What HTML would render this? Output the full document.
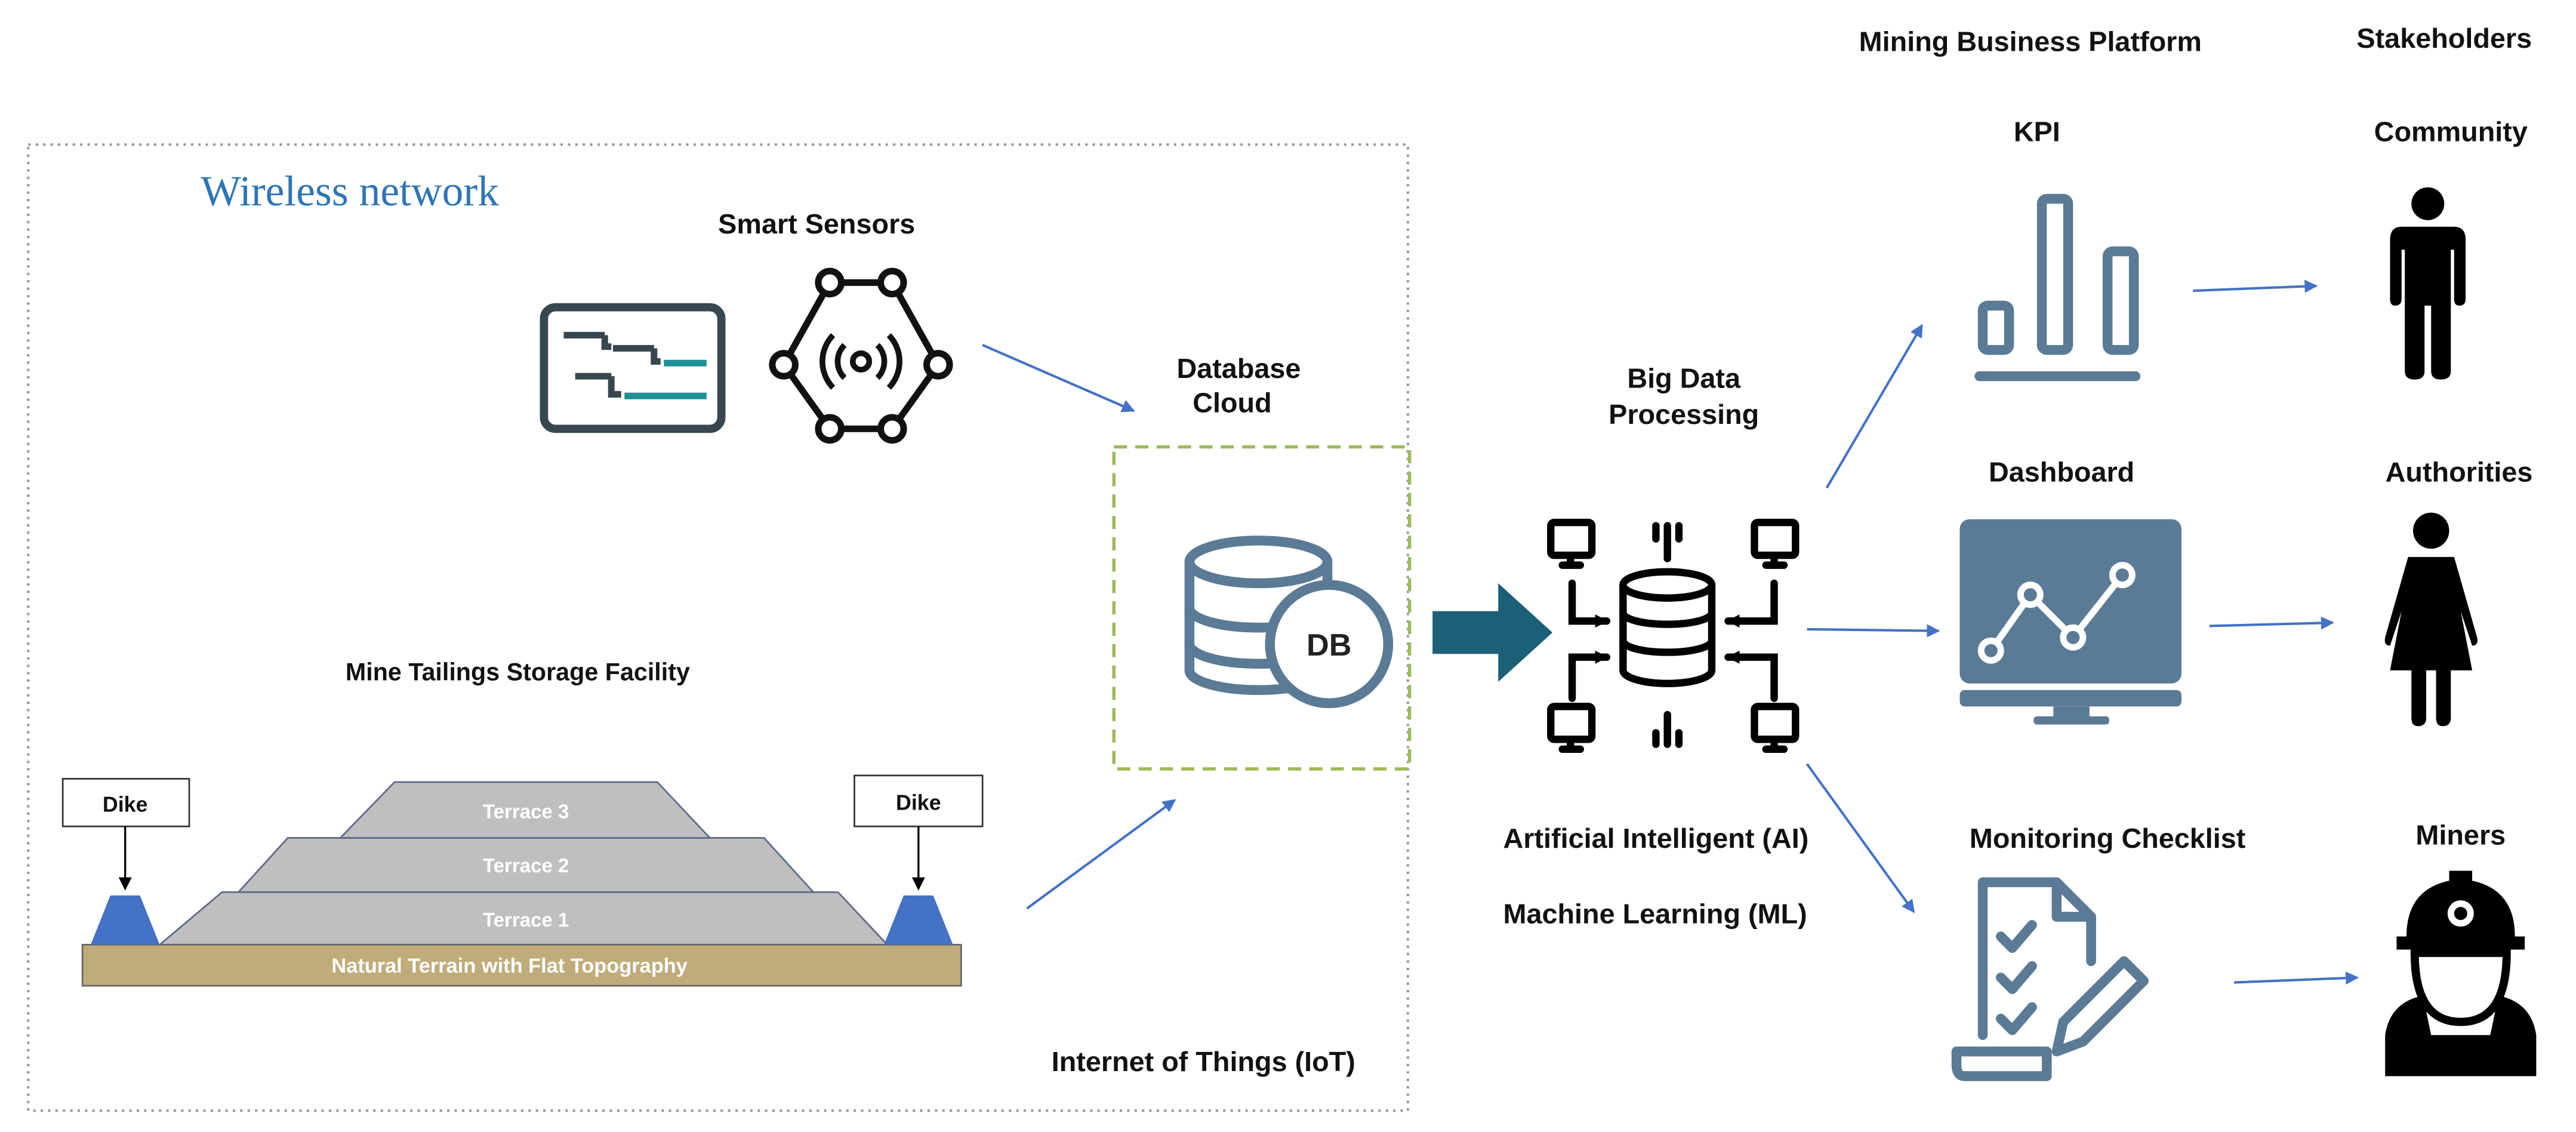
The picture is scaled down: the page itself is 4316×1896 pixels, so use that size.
<!DOCTYPE html>
<html><head><meta charset="utf-8"><style>
html,body{margin:0;padding:0;background:#fff;}
svg{display:block;}
text{font-family:"Liberation Sans",sans-serif;font-weight:bold;fill:#111;}
</style></head><body>
<svg width="4316" height="1896" viewBox="0 0 1568 689" xmlns="http://www.w3.org/2000/svg">
<defs>
<marker id="ab" markerWidth="8" markerHeight="8" refX="7" refY="4" orient="auto" markerUnits="userSpaceOnUse"><path d="M0,0 L8,4 L0,8 z" fill="#4472c4"/></marker>
<marker id="ak" markerWidth="8" markerHeight="8" refX="7" refY="4" orient="auto" markerUnits="userSpaceOnUse"><path d="M0,0 L8,4 L0,8 z" fill="#000"/></marker>
</defs>
<rect width="1568" height="689" fill="#fff"/>
<!-- IoT dotted box -->
<rect x="17" y="88" width="840" height="588" fill="none" stroke="#999" stroke-width="1.5" stroke-dasharray="1.5,3"/>
<text x="122" y="125" style="font-family:'Liberation Serif',serif;font-weight:normal;fill:#2e75b6" font-size="26">Wireless network</text>
<text x="497" y="142" font-size="17" text-anchor="middle">Smart Sensors</text>
<!-- gantt icon -->
<rect x="331" y="187" width="108" height="74" rx="7" fill="none" stroke="#37474f" stroke-width="5"/>
<g stroke-width="4" fill="none">
<path d="M343,204 H368" stroke="#37474f"/><path d="M368,204 V211 H372" stroke="#37474f"/>
<path d="M373,212 H398" stroke="#37474f"/><path d="M398,212 V220 H402" stroke="#37474f"/>
<path d="M404,221 H430" stroke="#1f8f96"/>
<path d="M350,229 H372" stroke="#37474f"/><path d="M372,229 V240 H378" stroke="#37474f"/>
<path d="M380,241 H430" stroke="#1f8f96"/>
</g>
<!-- hexagon sensor -->
<g stroke="#111" stroke-width="4" fill="none">
<path d="M505,172 H543 L571,222 L543,261 H505 L477,222 Z"/>
</g>
<g fill="#fff" stroke="#111" stroke-width="4">
<circle cx="505" cy="172" r="7"/><circle cx="543" cy="172" r="7"/><circle cx="571" cy="222" r="7"/><circle cx="543" cy="261" r="7"/><circle cx="505" cy="261" r="7"/><circle cx="477" cy="222" r="7"/>
</g>
<g stroke="#111" stroke-width="3.5" fill="none">
<circle cx="524" cy="220" r="5"/>
<path d="M514,210 A14,14 0 0 0 514,230"/><path d="M534,210 A14,14 0 0 1 534,230"/>
<path d="M507,204 A23,23 0 0 0 507,236"/><path d="M541,204 A23,23 0 0 1 541,236"/>
</g>
<line x1="598" y1="210" x2="690" y2="250" stroke="#4472c4" stroke-width="1.5" marker-end="url(#ab)"/>
<text x="754" y="230" font-size="17" text-anchor="middle">Database</text>
<text x="750" y="251" font-size="17" text-anchor="middle">Cloud</text>
<rect x="678" y="272" width="180" height="196" fill="none" stroke="#9bbb59" stroke-width="2" stroke-dasharray="8,5"/>
<!-- DB icon -->
<g stroke="#5b7a96" stroke-width="6" fill="#fff">
<path d="M724,342 V408 A42,12 0 0 0 808,408 V342"/>
<ellipse cx="766" cy="342" rx="42" ry="13"/>
<path d="M724,370 A42,12 0 0 0 808,370" fill="none"/>
<path d="M724,392 A42,12 0 0 0 808,392" fill="none"/>
<circle cx="809" cy="392" r="36"/>
</g>
<text x="809" y="399" font-size="19" text-anchor="middle" style="fill:#222">DB</text>
<!-- teal arrow -->
<path d="M872,372 H912 V355 L945,385 L912,415 V398 H872 Z" fill="#1c5f78"/>
<!-- Big data icon -->
<g stroke="#000" stroke-width="4.5" fill="none" stroke-linecap="round">
<rect x="944" y="318" width="25" height="20" rx="2"/><path d="M951,344 H962"/><path d="M956,338 V344"/>
<rect x="1068" y="318" width="25" height="20" rx="2"/><path d="M1075,344 H1086"/><path d="M1080,338 V344"/>
<rect x="944" y="430" width="25" height="20" rx="2"/><path d="M951,456 H962"/><path d="M956,450 V456"/>
<rect x="1068" y="430" width="25" height="20" rx="2"/><path d="M1075,456 H1086"/><path d="M1080,450 V456"/>
<path d="M1008,320 V328 M1015,320 V340 M1022,320 V328"/>
<path d="M1008,446 V453 M1015,435 V453 M1022,446 V453"/>
<path d="M988,356 V408 A27,8 0 0 0 1042,408 V356"/>
<ellipse cx="1015" cy="356" rx="27" ry="8"/>
<path d="M988,373 A27,7 0 0 0 1042,373 M988,390 A27,7 0 0 0 1042,390"/>
<path d="M957,355 V378 H978" marker-end="url(#ak)"/>
<path d="M957,425 V400 H978" marker-end="url(#ak)"/>
<path d="M1080,355 V378 H1052" marker-end="url(#ak)"/>
<path d="M1080,425 V400 H1052" marker-end="url(#ak)"/>
</g>
<text x="1025" y="236" font-size="17" text-anchor="middle">Big Data</text>
<text x="1025" y="258" font-size="17" text-anchor="middle">Processing</text>
<line x1="1112" y1="297" x2="1170" y2="198" stroke="#4472c4" stroke-width="1.5" marker-end="url(#ab)"/>
<line x1="1100" y1="383" x2="1180" y2="384" stroke="#4472c4" stroke-width="1.5" marker-end="url(#ab)"/>
<line x1="1100" y1="465" x2="1165" y2="555" stroke="#4472c4" stroke-width="1.5" marker-end="url(#ab)"/>
<text x="915" y="516" font-size="17">Artificial Intelligent (AI)</text>
<text x="915" y="562" font-size="17">Machine Learning (ML)</text>
<text x="640" y="652" font-size="17">Internet of Things (IoT)</text>
<!-- headers -->
<text x="1236" y="31" font-size="17" text-anchor="middle">Mining Business Platform</text>
<text x="1488" y="29" font-size="17" text-anchor="middle">Stakeholders</text>
<!-- KPI -->
<text x="1240" y="86" font-size="17" text-anchor="middle">KPI</text>
<g stroke="#5b7a96" stroke-width="6" fill="none">
<rect x="1207" y="186" width="16" height="27" rx="3"/>
<rect x="1243" y="121" width="16" height="92" rx="3"/>
<rect x="1283" y="153" width="16" height="60" rx="3"/>
<path d="M1205,229 H1300" stroke-linecap="round"/>
</g>
<line x1="1335" y1="177" x2="1410" y2="174" stroke="#4472c4" stroke-width="1.5" marker-end="url(#ab)"/>
<text x="1492" y="86" font-size="17" text-anchor="middle">Community</text>
<!-- man -->
<g fill="#000">
<circle cx="1478" cy="124" r="10"/>
<path d="M1462,138 H1494 Q1501,138 1501,146 V182 Q1501,186 1497,186 Q1494,186 1494,182 V152 H1492 V226 Q1492,231 1486,231 Q1480,231 1480,226 V186 H1476 V226 Q1476,231 1470,231 Q1464,231 1464,226 V152 H1462 V182 Q1462,186 1458,186 Q1455,186 1455,182 V146 Q1455,138 1462,138 Z"/>
</g>
<!-- Dashboard -->
<text x="1255" y="293" font-size="17" text-anchor="middle">Dashboard</text>
<rect x="1193" y="316" width="135" height="100" rx="6" fill="#5b7a96"/>
<rect x="1193" y="420" width="135" height="10" rx="3" fill="#5b7a96"/>
<rect x="1250" y="430" width="22" height="7" fill="#5b7a96"/>
<rect x="1238" y="436" width="46" height="5" rx="2" fill="#5b7a96"/>
<g stroke="#fff" stroke-width="4" fill="#5b7a96">
<path d="M1212,396 L1236,362 L1262,388 L1292,350" fill="none"/>
<circle cx="1212" cy="396" r="6"/><circle cx="1236" cy="362" r="6"/><circle cx="1262" cy="388" r="6"/><circle cx="1292" cy="350" r="6"/>
</g>
<line x1="1345" y1="381" x2="1420" y2="379" stroke="#4472c4" stroke-width="1.5" marker-end="url(#ab)"/>
<text x="1497" y="293" font-size="17" text-anchor="middle">Authorities</text>
<!-- woman -->
<g fill="#000">
<circle cx="1480" cy="323" r="11"/>
<path d="M1466,339 H1494 L1508,388 Q1509,393 1505,393 L1498,372 L1505,408 H1492 V437 Q1492,442 1487,442 Q1483,442 1483,437 V408 H1477 V437 Q1477,442 1472,442 Q1468,442 1468,437 V408 H1455 L1462,372 L1455,393 Q1451,393 1452,388 Z"/>
</g>
<!-- Monitoring Checklist -->
<text x="1283" y="516" font-size="17" text-anchor="middle">Monitoring Checklist</text>
<g stroke="#5b7a96" stroke-width="6" fill="none" stroke-linejoin="round" stroke-linecap="round">
<path d="M1207,630 V537 H1252 L1273,558 V585"/>
<path d="M1252,537 V558 H1273"/>
<path d="M1191,640 H1246 V655 H1196 Q1191,655 1191,648 Z"/>
<path d="M1218,570 L1225,577 L1237,563 M1218,595 L1225,602 L1237,588 M1218,620 L1225,627 L1237,613"/>
<path d="M1252,640 L1256,622 L1293,585 L1305,597 L1268,634 Z"/>
</g>
<line x1="1360" y1="598" x2="1435" y2="595" stroke="#4472c4" stroke-width="1.5" marker-end="url(#ab)"/>
<text x="1498" y="514" font-size="17" text-anchor="middle">Miners</text>
<!-- miner -->
<g fill="#000">
<path d="M1465,570 Q1465,538 1498,535 Q1531,538 1531,570 H1537 V578 H1459 V570 Z"/>
<rect x="1491" y="530" width="14" height="8"/>
<path d="M1470,580 H1526 Q1526,622 1498,622 Q1470,622 1470,580 Z" fill="none" stroke="#000" stroke-width="5"/>
<path d="M1452,655 V630 Q1455,610 1475,606 L1480,630 H1516 L1521,606 Q1541,610 1544,630 V655 Z"/>
</g>
<circle cx="1498" cy="556" r="8" fill="#fff"/><circle cx="1498" cy="556" r="4" fill="#000"/>
<!-- Mine tailings -->
<text x="315" y="414" font-size="15" text-anchor="middle">Mine Tailings Storage Facility</text>
<path d="M97,575 L135,543 H510 L540,575 Z" fill="#bfbfbf" stroke="#5a6b8a" stroke-width="1"/>
<path d="M145,543 L175,510 H465 L495,543 Z" fill="#bfbfbf" stroke="#5a6b8a" stroke-width="1"/>
<path d="M207,510 L240,476 H400 L432,510 Z" fill="#bfbfbf" stroke="#5a6b8a" stroke-width="1"/>
<g style="fill:#fff" font-size="12" text-anchor="middle">
<text x="320" y="498" style="fill:#fff">Terrace 3</text>
<text x="320" y="531" style="fill:#fff">Terrace 2</text>
<text x="320" y="564" style="fill:#fff">Terrace 1</text>
</g>
<rect x="50" y="575" width="535" height="25" fill="#bfac7a" stroke="#666" stroke-width="1"/>
<text x="310" y="592" font-size="12.5" text-anchor="middle" style="fill:#fff">Natural Terrain with Flat Topography</text>
<path d="M55,575 L67,545 H85 L97,575 Z" fill="#4472c4"/>
<path d="M538,575 L550,545 H568 L580,575 Z" fill="#4472c4"/>
<rect x="38" y="474" width="77" height="29" fill="#fff" stroke="#333" stroke-width="1"/>
<text x="76" y="494" font-size="13" text-anchor="middle">Dike</text>
<rect x="520" y="472" width="78" height="31" fill="#fff" stroke="#333" stroke-width="1"/>
<text x="559" y="493" font-size="13" text-anchor="middle">Dike</text>
<line x1="76" y1="503" x2="76" y2="541" stroke="#000" stroke-width="1.2" marker-end="url(#ak)"/>
<line x1="559" y1="503" x2="559" y2="541" stroke="#000" stroke-width="1.2" marker-end="url(#ak)"/>
<line x1="625" y1="553" x2="715" y2="487" stroke="#4472c4" stroke-width="1.5" marker-end="url(#ab)"/>
</svg>
</body></html>
